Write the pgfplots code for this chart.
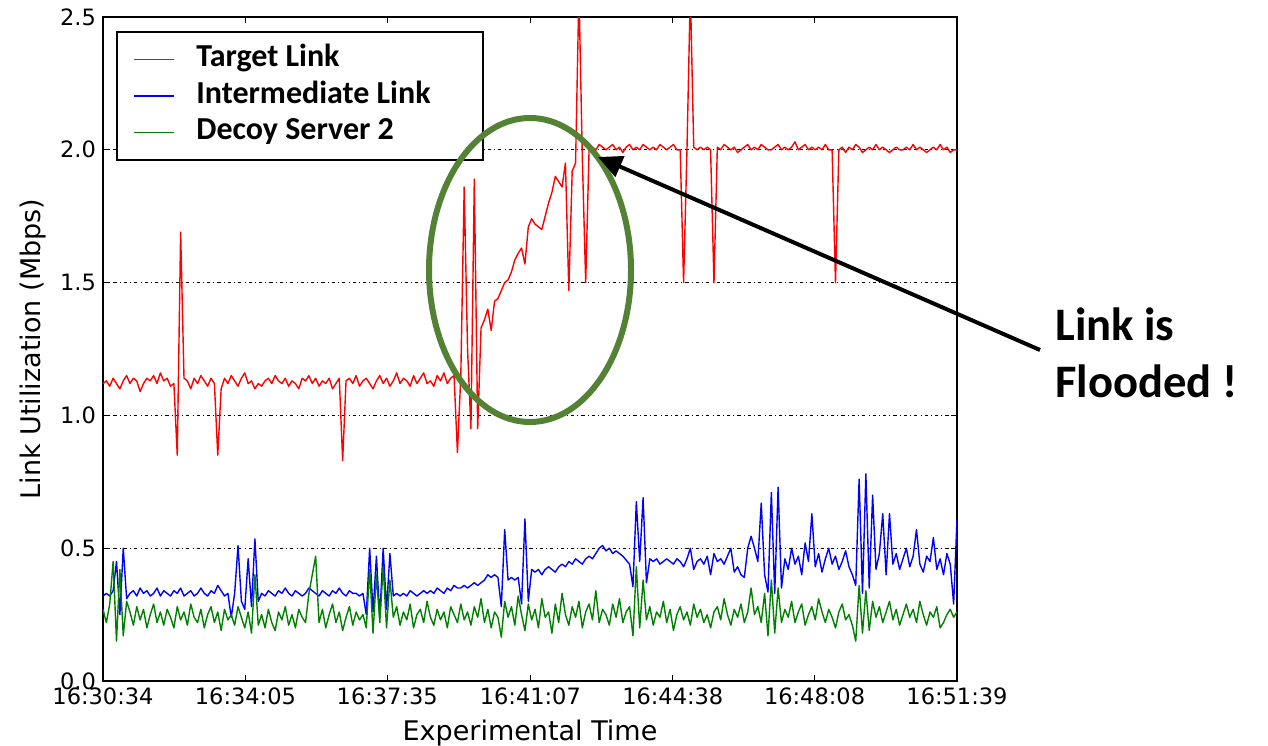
\documentclass[border=0pt]{standalone}
\usepackage{fontspec}
\setmainfont{DejaVu Sans}
\newfontfamily\calibri{Carlito}
\usepackage{pgfplots}
\usepackage{pgfplotstable}
\pgfplotsset{compat=1.18}
\usetikzlibrary{arrows.meta}
\definecolor{ellgreen}{HTML}{548235}
\definecolor{mplgreen}{HTML}{008000}
\pgfplotstableread{
t red blue green
0 1.12 0.32 0.27
5 1.13 0.33 0.22
10 1.11 0.32 0.29
15 1.14 0.34 0.45
20 1.12 0.45 0.15
25 1.10 0.25 0.42
30 1.13 0.50 0.17
35 1.15 0.31 0.30
40 1.12 0.33 0.26
45 1.14 0.34 0.21
50 1.13 0.32 0.28
55 1.09 0.35 0.23
60 1.12 0.33 0.27
65 1.14 0.34 0.20
70 1.13 0.32 0.25
75 1.15 0.33 0.29
80 1.12 0.35 0.22
85 1.16 0.32 0.26
90 1.13 0.34 0.21
95 1.14 0.33 0.27
100 1.11 0.32 0.24
105 1.12 0.34 0.20
110 0.85 0.33 0.28
115 1.69 0.35 0.23
120 1.14 0.32 0.26
125 1.13 0.33 0.21
130 1.10 0.34 0.29
135 1.14 0.32 0.24
140 1.12 0.33 0.22
145 1.15 0.35 0.27
150 1.13 0.33 0.20
155 1.11 0.32 0.25
160 1.14 0.34 0.28
165 1.12 0.33 0.22
170 0.85 0.36 0.26
175 1.10 0.34 0.19
180 1.14 0.32 0.27
185 1.12 0.33 0.23
190 1.15 0.24 0.25
195 1.13 0.33 0.21
200 1.11 0.51 0.28
205 1.14 0.30 0.24
210 1.16 0.27 0.20
215 1.12 0.46 0.26
220 1.13 0.28 0.18
225 1.10 0.535 0.40
230 1.12 0.30 0.21
235 1.11 0.33 0.25
240 1.13 0.32 0.20
245 1.14 0.34 0.27
250 1.12 0.33 0.22
255 1.15 0.32 0.19
260 1.13 0.34 0.26
265 1.12 0.33 0.23
270 1.14 0.35 0.28
275 1.11 0.33 0.21
280 1.13 0.32 0.25
285 1.12 0.34 0.20
290 1.10 0.33 0.27
295 1.14 0.32 0.24
300 1.13 0.33 0.22
305 1.15 0.35 0.33
310 1.12 0.34 0.40
315 1.14 0.33 0.47
320 1.11 0.32 0.22
325 1.13 0.34 0.27
330 1.12 0.33 0.20
335 1.14 0.32 0.25
340 1.10 0.34 0.29
345 1.12 0.33 0.22
350 1.14 0.35 0.26
355 0.83 0.33 0.19
360 1.13 0.32 0.24
365 1.14 0.34 0.28
370 1.12 0.33 0.21
375 1.15 0.33 0.26
380 1.11 0.32 0.23
385 1.13 0.33 0.25
390 1.14 0.25 0.20
395 1.12 0.50 0.42
400 1.10 0.26 0.18
405 1.13 0.47 0.40
410 1.15 0.24 0.22
415 1.12 0.50 0.43
420 1.14 0.27 0.20
425 1.11 0.48 0.38
430 1.13 0.32 0.24
435 1.16 0.33 0.28
440 1.12 0.32 0.21
445 1.14 0.33 0.26
450 1.13 0.32 0.23
455 1.11 0.34 0.29
460 1.15 0.33 0.20
465 1.12 0.32 0.25
470 1.14 0.33 0.27
475 1.16 0.34 0.22
480 1.12 0.33 0.30
485 1.13 0.34 0.24
490 1.11 0.33 0.21
495 1.15 0.35 0.27
500 1.13 0.34 0.23
505 1.16 0.33 0.26
510 1.12 0.35 0.20
515 1.14 0.34 0.28
520 1.15 0.36 0.25
525 0.86 0.35 0.22
530 1.15 0.35 0.29
535 1.86 0.36 0.23
540 1.25 0.35 0.26
545 0.95 0.36 0.21
550 1.89 0.37 0.28
555 0.95 0.36 0.24
560 1.33 0.37 0.31
565 1.36 0.38 0.22
570 1.40 0.40 0.27
575 1.32 0.39 0.20
580 1.43 0.40 0.26
585 1.44 0.39 0.24
590 1.47 0.28 0.165
595 1.50 0.57 0.30
600 1.51 0.38 0.24
605 1.54 0.39 0.28
610 1.585 0.38 0.21
615 1.61 0.39 0.32
620 1.63 0.29 0.25
625 1.57 0.61 0.19
630 1.71 0.30 0.29
635 1.74 0.42 0.23
640 1.72 0.41 0.27
645 1.71 0.42 0.20
650 1.70 0.40 0.31
655 1.75 0.42 0.24
660 1.80 0.43 0.26
665 1.84 0.42 0.18
670 1.90 0.41 0.29
675 1.88 0.43 0.22
680 1.86 0.44 0.33
685 1.95 0.43 0.25
690 1.47 0.45 0.21
695 1.92 0.44 0.28
700 1.95 0.46 0.24
705 2.60 0.45 0.30
710 1.97 0.44 0.20
715 1.50 0.46 0.26
720 2.00 0.47 0.29
725 2.01 0.46 0.23
730 2.00 0.48 0.34
735 2.02 0.50 0.22
740 2.01 0.51 0.27
745 2.00 0.49 0.25
750 2.01 0.50 0.21
755 2.02 0.48 0.29
760 2.00 0.49 0.24
765 2.01 0.48 0.31
770 1.99 0.47 0.22
775 2.01 0.455 0.26
780 2.02 0.44 0.28
785 2.00 0.355 0.17
790 2.01 0.675 0.43
795 2.00 0.45 0.20
800 2.02 0.69 0.38
805 2.01 0.37 0.23
810 2.00 0.46 0.28
815 2.01 0.45 0.21
820 2.00 0.46 0.26
825 2.02 0.44 0.24
830 2.01 0.45 0.30
835 2.00 0.46 0.22
840 2.01 0.45 0.27
845 2.02 0.44 0.19
850 2.00 0.46 0.25
855 2.00 0.45 0.28
860 1.50 0.43 0.23
865 2.00 0.46 0.26
870 2.60 0.50 0.21
875 2.01 0.42 0.29
880 2.00 0.45 0.24
885 2.01 0.46 0.27
890 2.00 0.44 0.22
895 2.01 0.47 0.25
900 2.00 0.40 0.20
905 1.50 0.48 0.26
910 2.01 0.45 0.28
915 2.00 0.46 0.23
920 2.02 0.44 0.31
925 2.01 0.47 0.25
930 2.00 0.50 0.21
935 2.01 0.41 0.27
940 1.99 0.43 0.24
945 2.00 0.40 0.29
950 2.01 0.39 0.22
955 2.02 0.50 0.26
960 2.00 0.545 0.35
965 2.01 0.50 0.25
970 2.00 0.45 0.28
975 2.02 0.67 0.22
980 2.01 0.40 0.33
985 2.00 0.335 0.17
990 2.00 0.71 0.38
995 2.01 0.33 0.18
1000 2.02 0.73 0.35
1005 2.00 0.35 0.22
1010 2.01 0.46 0.27
1015 2.00 0.42 0.24
1020 2.01 0.50 0.30
1025 2.03 0.44 0.22
1030 2.00 0.47 0.26
1035 2.01 0.40 0.29
1040 2.02 0.52 0.21
1045 2.00 0.45 0.25
1050 2.01 0.63 0.28
1055 2.00 0.43 0.23
1060 2.01 0.48 0.31
1065 2.00 0.41 0.26
1070 2.02 0.46 0.22
1075 2.00 0.50 0.27
1080 2.00 0.44 0.24
1085 1.50 0.47 0.20
1090 2.00 0.42 0.26
1095 2.01 0.45 0.29
1100 1.99 0.49 0.23
1105 2.01 0.43 0.25
1110 2.00 0.40 0.21
1115 2.02 0.36 0.15
1120 2.01 0.76 0.36
1125 1.99 0.33 0.18
1130 2.00 0.78 0.34
1135 2.01 0.35 0.19
1140 2.00 0.70 0.30
1145 2.02 0.42 0.24
1150 2.00 0.48 0.28
1155 2.01 0.63 0.22
1160 2.00 0.40 0.26
1165 1.99 0.63 0.30
1170 2.00 0.44 0.23
1175 2.01 0.48 0.27
1180 2.00 0.42 0.21
1185 2.00 0.46 0.25
1190 2.01 0.50 0.29
1195 2.00 0.43 0.24
1200 2.02 0.47 0.27
1205 2.00 0.57 0.22
1210 2.01 0.44 0.30
1215 2.00 0.41 0.25
1220 1.99 0.47 0.21
1225 2.00 0.45 0.26
1230 2.01 0.54 0.24
1235 2.00 0.42 0.28
1240 2.02 0.46 0.20
1245 2.00 0.40 0.22
1250 2.01 0.48 0.25
1255 1.99 0.44 0.27
1260 2.00 0.29 0.24
1265 2.00 0.61 0.26
}\linktable
\begin{document}
\begin{tikzpicture}
\begin{axis}[
  width=427pt, height=332pt, scale only axis,
  xmin=0, xmax=1265, ymin=0, ymax=2.5,
  xtick={0,211,421,633,844,1054,1265},
  xticklabels={16:30:34,16:34:05,16:37:35,16:41:07,16:44:38,16:48:08,16:51:39},
  ytick={0,0.5,1,1.5,2,2.5},
  yticklabels={0.0,0.5,1.0,1.5,2.0,2.5},
  tick align=inside, xtick pos=both, ytick pos=both,
  major tick length=3pt,
  every tick/.style={black, line width=0.5pt},
  axis line style={line width=1pt},
  ticklabel style={font=\fontsize{11.25}{13}\selectfont},
  ymajorgrids,
  major grid style={black, line width=0.45pt, dash pattern=on 1.6pt off 1.6pt on 0.4pt off 1.6pt},
  xlabel={Experimental Time},
  ylabel={Link Utilization (Mbps)},
  label style={font=\fontsize{13.5}{16}\selectfont},
  xlabel style={at={(axis description cs:0.5,-0.0889)}, anchor=base},
  ylabel style={at={(axis description cs:-0.082,0.5)}, anchor=center},
  legend cell align=left,
  legend style={at={(axis description cs:0.0152,0.979)}, anchor=north west,
    draw=black, line width=1pt, inner xsep=8pt, inner ysep=6.5pt,
    font=\calibri\bfseries\fontsize{16}{18}\selectfont,
    nodes={inner ysep=0pt, text height=11pt, text depth=3.5pt},
    row sep=3.75pt,
    /tikz/every odd column/.append style={column sep=9pt}},
  legend image code/.code={\draw[#1, line width=0.7pt] (0pt,0pt) -- (20pt,0pt);},
]
\addplot[red, line width=0.7pt, line join=round] table[x=t, y=red] {\linktable};
\addlegendentry{Target Link}
\addplot[blue, line width=0.7pt, line join=round] table[x=t, y=blue] {\linktable};
\addlegendentry{Intermediate Link\hspace*{16pt}}
\addplot[mplgreen, line width=0.7pt, line join=round] table[x=t, y=green] {\linktable};
\addlegendentry{Decoy Server 2}
\end{axis}
\draw[ellgreen, line width=3pt] (213.5pt,205.5pt) ellipse [x radius=50.5pt, y radius=76pt];
\draw[line width=2pt, -{Triangle[length=12pt,width=11pt]}] (468.5pt,165.5pt) -- (247.5pt,262pt);
\node[anchor=base west, align=left, inner sep=0pt, font=\calibri\bfseries\fontsize{23.3}{28.5}\selectfont] at (476pt,142pt) {Link is\\Flooded !};
\pgfresetboundingbox
\path[use as bounding box] (-51.5pt,-32pt) rectangle (582.5pt,340.5pt);
\end{tikzpicture}
\end{document}
